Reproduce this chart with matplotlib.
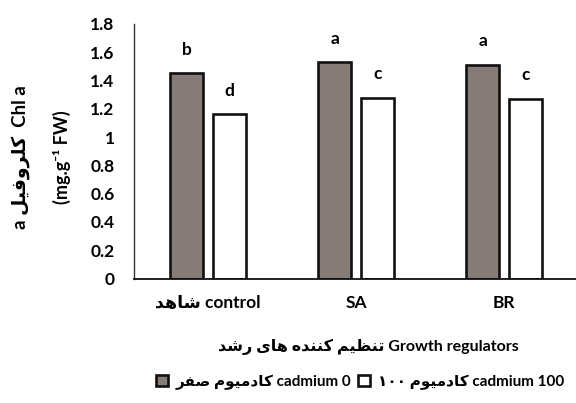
import numpy as np
import matplotlib
matplotlib.use('Agg')
import matplotlib.pyplot as plt
from matplotlib.patches import Patch

plt.rcParams['font.family'] = ['Lato', 'DejaVu Sans']
plt.rcParams['font.weight'] = 'bold'

# data
groups = ['control', 'SA', 'BR']
groups_fa = ['شاهد', '', '']
cd0 = [1.45, 1.53, 1.51]
cd100 = [1.16, 1.28, 1.27]
letters0 = ['b', 'a', 'a']
letters100 = ['d', 'c', 'c']
yticks = [0, 0.2, 0.4, 0.6, 0.8, 1, 1.2, 1.4, 1.6, 1.8]

# contextual forms: isolated, final, initial, medial (None = does not join forward)
FORMS = {
    'ا': ('\uFE8D', '\uFE8E', None, None),
    'د': ('\uFEA9', '\uFEAA', None, None),
    'ر': ('\uFEAD', '\uFEAE', None, None),
    'و': ('\uFEED', '\uFEEE', None, None),
    'ت': ('\uFE95', '\uFE96', '\uFE97', '\uFE98'),
    'ش': ('\uFEB5', '\uFEB6', '\uFEB7', '\uFEB8'),
    'ص': ('\uFEB9', '\uFEBA', '\uFEBB', '\uFEBC'),
    'ظ': ('\uFEC5', '\uFEC6', '\uFEC7', '\uFEC8'),
    'ف': ('\uFED1', '\uFED2', '\uFED3', '\uFED4'),
    'ل': ('\uFEDD', '\uFEDE', '\uFEDF', '\uFEE0'),
    'م': ('\uFEE1', '\uFEE2', '\uFEE3', '\uFEE4'),
    'ن': ('\uFEE5', '\uFEE6', '\uFEE7', '\uFEE8'),
    'ه': ('\uFEE9', '\uFEEA', '\uFEEB', '\uFEEC'),
    'ی': ('\uFEEF', '\uFEF0', '\uFEF3', '\uFEF4'),
    'ک': ('\uFB8E', '\uFB8F', '\uFB90', '\uFB91'),
}


def shape_word(w):
    out = []
    for i, ch in enumerate(w):
        if ch not in FORMS:
            out.append(ch)
            continue
        prev = w[i - 1] if i > 0 else ''
        nxt = w[i + 1] if i + 1 < len(w) else ''
        jp = prev in FORMS and FORMS[prev][2] is not None
        jn = nxt in FORMS and FORMS[ch][2] is not None
        iso, fin, ini, med = FORMS[ch]
        if jp and jn:
            out.append(med)
        elif jp:
            out.append(fin)
        elif jn:
            out.append(ini)
        else:
            out.append(iso)
    if any(c in FORMS for c in w):
        out = out[::-1]
    return ''.join(out)


def fa(txt):
    # visual order for a right-to-left run
    return ' '.join(shape_word(w) for w in txt.split(' ')[::-1])


fig = plt.figure(figsize=(5.76, 4.03), dpi=100)
ax = fig.add_axes([134 / 576, 1 - 278.5 / 403, 442 / 576, 254.5 / 403])

x = np.arange(len(groups))
w = 0.223
off = 0.144
b0 = ax.bar(x - off, cd0, w, color='#857c77', edgecolor='#111111', linewidth=1.9)
b1 = ax.bar(x + off, cd100, w, color='white', edgecolor='#111111', linewidth=1.9)

for bars, labs in [(b0, letters0), (b1, letters100)]:
    for r, lab in zip(bars, labs):
        ax.annotate(lab, (r.get_x() + r.get_width() / 2, r.get_height()),
                    xytext=(0, 17), textcoords='offset points',
                    ha='center', va='center', fontsize=12.5, fontweight='bold')

ax.set_xlim(-0.5, -0.5 + 442 / 148)
ax.set_ylim(0, 1.8)
ax.set_yticks(yticks)
ax.set_yticklabels([f'{t:g}' for t in yticks], fontsize=12.5, fontweight='bold')
ax.set_xticks(x)
ax.set_xticklabels([(fa(f) + ' ' + g).strip() for f, g in zip(groups_fa, groups)],
                   fontsize=12.5, fontweight='bold')
ax.tick_params(axis='y', length=0, pad=14)
ax.tick_params(axis='x', length=0, pad=12)
for s in ['top', 'right']:
    ax.spines[s].set_visible(False)
ax.spines['left'].set_color('#333333')
ax.spines['left'].set_linewidth(1.0)
ax.spines['bottom'].set_color('#111111')
ax.spines['bottom'].set_linewidth(1.3)

fig.text(21 / 576, 1 - 157 / 403, fa('کلروفیل a') + '  Chl a', rotation=90,
         ha='center', va='center', fontsize=13.5, fontweight='bold')
fig.text(62 / 576, 1 - 157 / 403, '(mg.g⁻¹ FW)', rotation=90,
         ha='center', va='center', fontsize=13, fontweight='bold')

fig.text(368 / 576, 1 - 347 / 403, fa('تنظیم کننده های رشد') + ' Growth regulators',
         ha='center', va='center', fontsize=11.5, fontweight='bold')

handles = [Patch(facecolor='#857c77', edgecolor='#111111', linewidth=1.9),
           Patch(facecolor='white', edgecolor='#111111', linewidth=1.9)]
labels = [fa('کادمیوم صفر') + ' cadmium 0', fa('کادمیوم ۱۰۰') + ' cadmium 100']
fig.legend(handles, labels, loc='center', bbox_to_anchor=(360 / 576, 1 - 382 / 403),
           ncol=2, frameon=False, handlelength=0.8, handleheight=0.8,
           handletextpad=0.5, columnspacing=0.4, prop={'weight': 'bold', 'size': 11})

fig.savefig('out.png', dpi=100)
